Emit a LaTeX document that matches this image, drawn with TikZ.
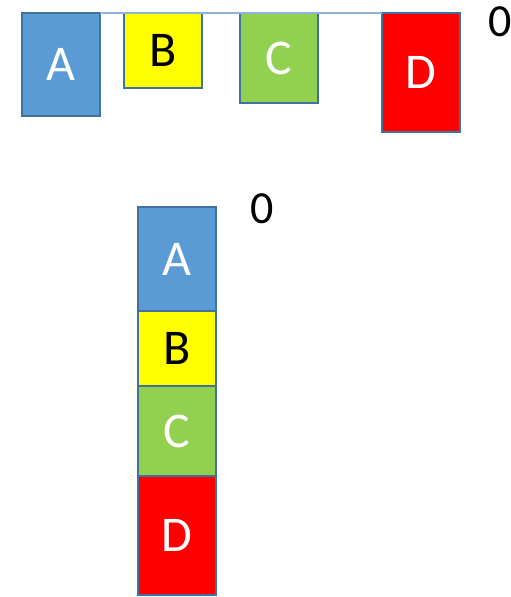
\documentclass[tikz,border=0pt]{standalone}
\usepackage{fontspec}
\setmainfont{Carlito}
\usetikzlibrary{positioning}
\definecolor{edge}{HTML}{41719C}
\definecolor{boxA}{HTML}{5B9BD5}
\definecolor{boxB}{HTML}{FFFF00}
\definecolor{boxC}{HTML}{92D050}
\definecolor{boxD}{HTML}{FF0000}
\definecolor{rope}{HTML}{8FB4D9}

\begin{document}
\begin{tikzpicture}[x=1pt, y=-1pt,
    bx/.style={draw=edge, line width=2pt, rectangle, outer sep=0, inner sep=0,
               minimum width=78pt, font=\fontsize{50}{50}\selectfont},
    lbl/.style={font=\fontsize{46}{46}\selectfont, inner sep=0}]
\useasboundingbox (0,0) rectangle (511,597);
% top row, hanging from a line
\node[bx, fill=boxA, text=white, minimum height=103pt, anchor=north west] (a) at (22,13)  {A};
\node[bx, fill=boxB, text=black, minimum height=75pt,  anchor=north west] (b) at (124,13) {B};
\node[bx, fill=boxC, text=white, minimum height=90pt,  anchor=north west] (c) at (240,13) {C};
\node[bx, fill=boxD, text=white, minimum height=119pt, anchor=north west] (d) at (382,13) {D};
\draw[rope, line width=1.2pt] (a.north east) -- (d.north west);
\node[lbl] (z1) at (500,22) {0};
% stacked
\node[bx, fill=boxA, text=white, minimum height=104pt, anchor=north west] (a2) at (138,207) {A};
\node[bx, fill=boxB, text=black, minimum height=75pt,  below=0pt of a2] (b2) {B};
\node[bx, fill=boxC, text=white, minimum height=90pt,  below=0pt of b2] (c2) {C};
\node[bx, fill=boxD, text=white, minimum height=119pt, below=0pt of c2] (d2) {D};
\node[lbl] (z2) at (262,209) {0};
\end{tikzpicture}
\end{document}
